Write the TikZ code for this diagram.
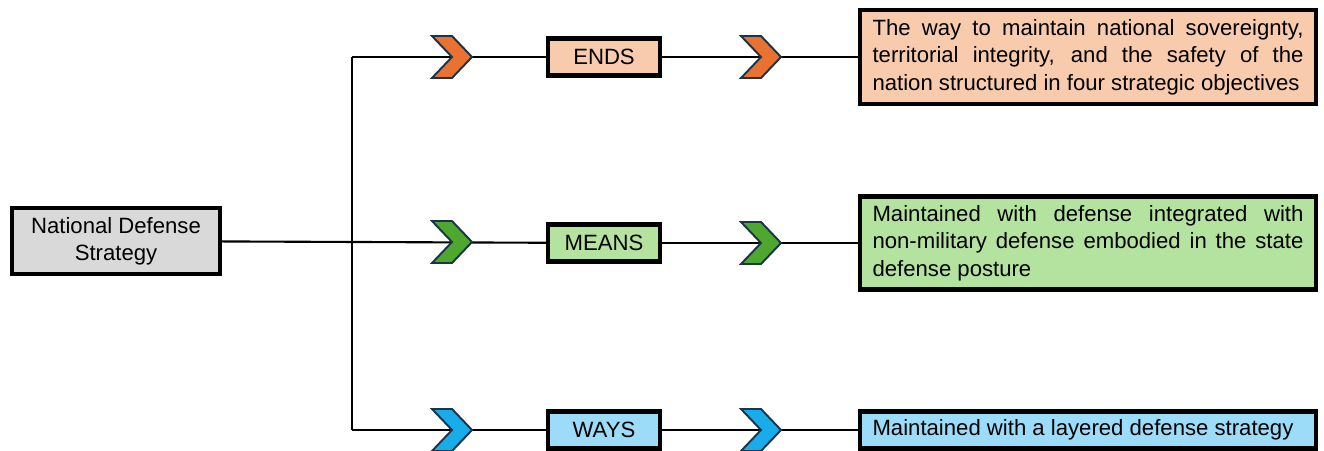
\documentclass[tikz,border=0pt]{standalone}
\usepackage{fontspec}
\setmainfont{Liberation Sans}
\usepackage{xcolor}
\usepackage{tikz}

\definecolor{ndsfill}{HTML}{D9D9D9}
\definecolor{endsfill}{HTML}{F8CBAD}
\definecolor{meansfill}{HTML}{B4E3A0}
\definecolor{waysfill}{HTML}{9DDCF8}
\definecolor{endschev}{HTML}{E97132}
\definecolor{meanschev}{HTML}{4EA72E}
\definecolor{wayschev}{HTML}{18ACEA}
\definecolor{chevline}{HTML}{1C3447}

\tikzset{
	box/.style={draw=black, line width=2.3pt, inner sep=0pt, align=center,
		font=\fontsize{12.6}{15.6}\selectfont},
	tag/.style={box, minimum width=2.24cm, minimum height=0.74cm},
	desc/.style={box, minimum width=9.12cm, text width=8.62cm, align=justify},
	chev/.pic={
		\draw[fill=#1, draw=chevline, line width=1.1pt, line join=miter]
			(-20,-21) -- (0,-21) -- (20,0) -- (0,21) -- (-20,21) -- (0,0) -- cycle;
	}
}

\begin{document}
\begin{tikzpicture}[x=0.02cm, y=-0.02cm]
		\useasboundingbox (0,0) rectangle (1324,450);
		%
		\node[box, fill=ndsfill, minimum width=4.16cm, minimum height=1.32cm] (NDS) at (116,241) {National Defense\\Strategy};
		\node[tag, fill=endsfill] (E) at (604,57) {ENDS};
		\node[tag, fill=meansfill] (M) at (604,243) {MEANS};
		\node[tag, fill=waysfill] (W) at (604,430) {WAYS};
		\node[desc, fill=endsfill, minimum height=1.88cm] (E2) at (1088,57)
			{The way to maintain national sovereignty,\linebreak territorial integrity, and the safety of the\linebreak nation structured in four strategic objectives};
		\node[desc, fill=meansfill, minimum height=1.86cm] (M2) at (1088,243)
			{Maintained with defense integrated with\linebreak non-military defense embodied in the state\linebreak defense posture};
		\node[desc, fill=waysfill, minimum height=0.74cm] (W2) at (1088,430)
			{Maintained with a layered defense strategy};
		\coordinate (T) at (352,57);
		\coordinate (B) at (352,430);
		%
		\path[draw, line width=1.2pt]
			(NDS) edge (M)
			(T) edge (B)
			(T) edge (E)
			(B) edge (W)
			(E) edge (E2)
			(M) edge (M2)
			(W) edge (W2);
		%
		\pic at (452,57) {chev=endschev};
		\pic at (452,242) {chev=meanschev};
		\pic at (452,430) {chev=wayschev};
		\pic at (761,57) {chev=endschev};
		\pic at (761,243) {chev=meanschev};
		\pic at (761,430) {chev=wayschev};
	\end{tikzpicture}
\end{document}
